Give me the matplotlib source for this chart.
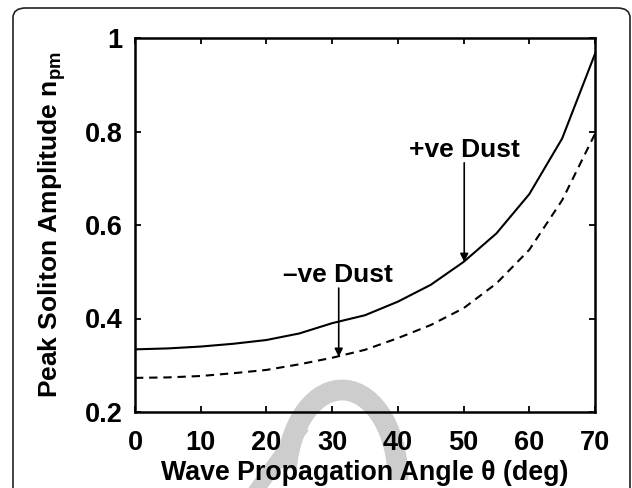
import numpy as np
import matplotlib
matplotlib.use("Agg")
import matplotlib.pyplot as plt
from matplotlib.patches import FancyBboxPatch, Arc
from matplotlib.lines import Line2D

plt.rcParams['font.family'] = ['Liberation Sans', 'DejaVu Sans']
plt.rcParams['font.weight'] = 'bold'
plt.rcParams['mathtext.fontset'] = 'custom'
plt.rcParams['mathtext.rm'] = 'Liberation Sans:bold'
plt.rcParams['mathtext.it'] = 'Liberation Sans:bold'
plt.rcParams['mathtext.bf'] = 'Liberation Sans:bold'

# data
theta = [0, 5, 10, 15, 20, 25, 30, 35, 40, 45, 50, 55, 60, 65, 70]
pos_dust = [0.334, 0.336, 0.340, 0.346, 0.354, 0.368, 0.390, 0.407, 0.436,
            0.472, 0.521, 0.582, 0.666, 0.785, 0.966]
neg_dust = [0.273, 0.274, 0.277, 0.283, 0.290, 0.302, 0.316, 0.333, 0.358,
            0.386, 0.422, 0.475, 0.547, 0.653, 0.795]
xticks = [0, 10, 20, 30, 40, 50, 60, 70]
yticks = [0.2, 0.4, 0.6, 0.8, 1.0]
ytick_labels = ['0.2', '0.4', '0.6', '0.8', '1']

W, H = 632, 488
fig = plt.figure(figsize=(W / 100, H / 100), dpi=100)

# rounded frame around the figure
frame = FancyBboxPatch((13 / W, -20 / H), 617 / W, 500 / H,
                       boxstyle="round,pad=0,rounding_size=0.02",
                       transform=fig.transFigure, fill=False,
                       edgecolor='#222222', linewidth=1.2)
fig.patches.append(frame)

# faint watermark, kept behind everything
wm = Arc((342 / W, 1 - 480 / H), 112 / W, 180 / H, theta1=0, theta2=165,
         transform=fig.transFigure, color='#cdcdcd', linewidth=15, zorder=-5)
fig.patches.append(wm)
fig.lines.append(Line2D([255 / W, 298 / W], [1 - 492 / H, 1 - 432 / H],
                        transform=fig.transFigure, color='#cdcdcd',
                        linewidth=11, zorder=-5))

ax = fig.add_axes([135 / W, 1 - 412 / H, 460 / W, 374 / H])
ax.set_facecolor('none')

ax.plot(theta, pos_dust, color='k', lw=1.5)
ax.plot(theta, neg_dust, color='k', lw=1.5, linestyle=(0, (4, 2.8)))

ax.set_xlim(0, 70)
ax.set_ylim(0.2, 1.0)
ax.set_xticks(xticks)
ax.set_yticks(yticks)
ax.set_yticklabels(ytick_labels)
ax.tick_params(direction='in', length=4, width=1.3, top=True, right=True,
               labelsize=19.5)
ax.tick_params(axis='x', pad=13)
ax.tick_params(axis='y', pad=9)
for s in ax.spines.values():
    s.set_linewidth(1.8)

ax.set_xlabel('Wave Propagation Angle \u03b8 (deg)', fontsize=19.3,
              fontweight='bold', labelpad=3)
ax.set_ylabel('Peak Soliton Amplitude n$_\\mathrm{pm}$', fontsize=19,
              fontweight='bold', labelpad=12)

ax.text(50.2, 0.760, '+ve Dust', fontsize=19, fontweight='bold',
        ha='center', va='center')
ax.text(30.9, 0.493, '\u2013ve Dust', fontsize=19, fontweight='bold',
        ha='center', va='center')
arrow = dict(arrowstyle='-|>', lw=1.2, color='k', mutation_scale=12,
             shrinkA=0, shrinkB=0)
ax.annotate('', xy=(50.1, 0.521), xytext=(50.1, 0.733), arrowprops=arrow)
ax.annotate('', xy=(31.0, 0.318), xytext=(31.0, 0.465), arrowprops=arrow)

fig.savefig('out.png', dpi=100)
